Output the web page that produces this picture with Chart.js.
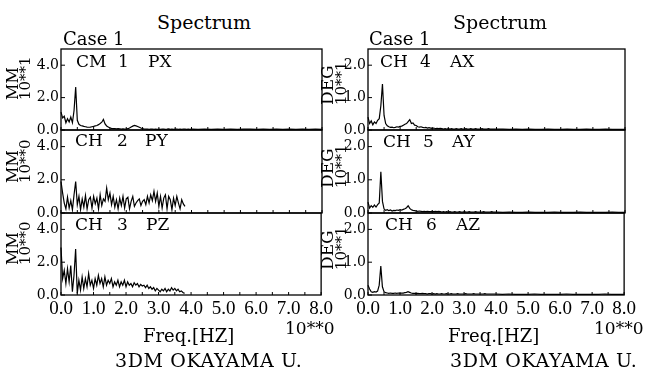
<!DOCTYPE html>
<html><head><meta charset="utf-8">
<script src="https://cdn.jsdelivr.net/npm/chart.js@4.4.1/dist/chart.umd.min.js"></script>
<style>
html,body{margin:0;padding:0;background:#fff;}
#fig{position:relative;width:658px;height:371px;overflow:hidden;font-family:'DejaVu Serif','Liberation Serif',serif;color:#000;}
.t{position:absolute;white-space:pre;line-height:1;}
.r{position:absolute;white-space:pre;line-height:1;transform:rotate(-90deg);transform-origin:left top;}
canvas{position:absolute;}
</style></head><body><div id="fig"></div>
<script>
const freq = [
0.00,0.05,0.10,0.15,0.20,0.25,0.30,0.35,0.40,0.45,
0.50,0.55,0.60,0.65,0.70,0.75,0.80,0.85,0.90,0.95,
1.00,1.05,1.10,1.15,1.20,1.25,1.30,1.35,1.40,1.45,
1.50,1.55,1.60,1.65,1.70,1.75,1.80,1.85,1.90,1.95,
2.00,2.05,2.10,2.15,2.20,2.25,2.30,2.35,2.40,2.45,
2.50,2.55,2.60,2.65,2.70,2.75,2.80,2.85,2.90,2.95,
3.00,3.05,3.10,3.15,3.20,3.25,3.30,3.35,3.40,3.45,
3.50,3.55,3.60,3.65,3.70,3.75,3.80,3.85,3.90,3.95,
4.00,
4.20,4.40,4.60,4.80,5.00,5.20,5.40,5.60,5.80,6.00,
6.20,6.40,6.60,6.80,7.00,7.20,7.40,7.60,7.80,8.00];
const chPX = [
1.10,0.75,0.85,0.45,0.70,0.50,0.80,0.45,1.20,2.65,
0.60,0.35,0.28,0.25,0.22,0.20,0.18,0.17,0.18,0.20,
0.22,0.25,0.28,0.33,0.40,0.48,0.65,0.38,0.25,0.18,
0.12,0.10,0.09,0.08,0.07,0.08,0.07,0.06,0.07,0.06,
0.06,0.08,0.12,0.18,0.24,0.28,0.25,0.22,0.17,0.12,
0.08,0.06,0.05,0.06,0.04,0.05,0.06,0.04,0.05,0.04,
0.05,0.04,0.06,0.05,0.04,0.05,0.07,0.04,0.05,0.04,
0.05,0.06,0.04,0.05,0.04,0.06,0.05,0.04,0.05,0.04,
0.05,
0.04,0.05,0.04,0.06,0.04,0.05,0.04,0.05,0.06,0.04,
0.05,0.04,0.05,0.04,0.06,0.04,0.05,0.04,0.05,0.04];
const chPY = [
1.90,1.20,0.60,0.25,0.95,0.30,0.75,0.20,1.10,1.90,
0.50,1.00,0.20,0.85,0.35,1.05,0.25,0.80,0.95,0.30,
1.00,0.55,0.90,0.25,1.10,0.45,0.85,0.70,1.50,0.80,
1.20,0.50,1.00,0.35,0.80,0.25,0.90,0.45,1.00,0.30,
0.85,0.95,0.25,0.70,1.00,0.40,0.60,0.75,0.85,0.45,
0.70,0.80,0.50,1.00,0.60,1.10,0.75,1.30,0.70,1.20,
0.40,1.00,0.30,0.90,1.10,0.25,1.00,0.80,0.20,0.90,
0.45,1.00,0.60,0.25,0.80,0.55,0.40];
const chPZ = [
2.90,1.00,1.50,0.70,1.60,0.80,1.80,0.20,1.20,2.80,
0.10,0.90,0.30,1.10,0.40,1.00,0.50,1.30,0.60,0.90,
0.40,1.00,0.60,1.20,0.70,1.00,0.50,1.10,0.60,0.90,
0.70,1.00,0.50,0.80,0.60,0.90,0.50,0.80,0.60,0.90,
0.50,0.80,0.60,0.70,0.50,0.75,0.60,0.70,0.50,0.65,
0.55,0.60,0.45,0.60,0.40,0.50,0.35,0.45,0.25,0.40,
0.30,0.20,0.35,0.25,0.40,0.20,0.35,0.25,0.45,0.30,
0.40,0.25,0.35,0.20,0.25,0.15,0.10];
const chAX = [
0.40,0.20,0.28,0.16,0.25,0.20,0.30,0.35,0.75,1.42,
0.45,0.20,0.13,0.10,0.08,0.09,0.07,0.08,0.10,0.09,
0.11,0.12,0.15,0.18,0.20,0.26,0.32,0.20,0.22,0.15,
0.14,0.10,0.09,0.10,0.08,0.07,0.08,0.06,0.07,0.06,
0.05,0.06,0.04,0.05,0.04,0.05,0.04,0.03,0.04,0.03,
0.04,0.03,0.04,0.03,0.03,0.04,0.03,0.03,0.04,0.03,
0.03,0.04,0.03,0.03,0.04,0.03,0.03,0.04,0.03,0.03,
0.03,0.04,0.03,0.03,0.03,0.04,0.03,0.03,0.03,0.03,
0.03,
0.03,0.02,0.03,0.02,0.03,0.02,0.02,0.03,0.02,0.02,
0.03,0.02,0.02,0.03,0.02,0.02,0.03,0.02,0.02,0.02];
const chAY = [
0.33,0.15,0.22,0.17,0.24,0.18,0.25,0.30,1.24,0.35,
0.12,0.08,0.10,0.07,0.09,0.06,0.08,0.07,0.09,0.08,
0.10,0.09,0.11,0.13,0.16,0.22,0.14,0.10,0.08,0.07,
0.06,0.05,0.06,0.05,0.04,0.05,0.04,0.05,0.04,0.04,
0.05,0.04,0.05,0.04,0.05,0.04,0.03,0.04,0.03,0.04,
0.03,0.04,0.03,0.03,0.04,0.03,0.03,0.04,0.03,0.03,
0.04,0.03,0.03,0.04,0.03,0.03,0.03,0.04,0.03,0.03,
0.03,0.03,0.04,0.03,0.03,0.03,0.03,0.04,0.03,0.03,
0.03,
0.02,0.03,0.02,0.02,0.03,0.02,0.02,0.02,0.03,0.02,
0.02,0.02,0.03,0.02,0.02,0.02,0.02,0.03,0.02,0.02];
const chAZ = [
0.30,0.18,0.10,0.08,0.10,0.09,0.12,0.30,0.88,0.25,
0.10,0.07,0.06,0.05,0.06,0.05,0.05,0.06,0.05,0.06,
0.05,0.06,0.06,0.07,0.08,0.10,0.08,0.06,0.05,0.05,
0.04,0.05,0.04,0.04,0.05,0.04,0.04,0.03,0.04,0.04,
0.03,0.04,0.03,0.04,0.03,0.03,0.04,0.03,0.03,0.04,
0.03,0.03,0.04,0.03,0.03,0.03,0.04,0.03,0.03,0.03,
0.03,0.04,0.03,0.03,0.03,0.03,0.04,0.03,0.03,0.03,
0.03,0.03,0.03,0.04,0.03,0.03,0.03,0.03,0.03,0.03,
0.03,
0.02,0.03,0.02,0.02,0.02,0.03,0.02,0.02,0.02,0.02,
0.03,0.02,0.02,0.02,0.02,0.02,0.03,0.02,0.02,0.02];
const xTickLabels = ['0.0','1.0','2.0','3.0','4.0','5.0','6.0','7.0','8.0'];
const leftYLabels = ['0.0','2.0','4.0'];
const rightYLabels = ['0.0','1.0','2.0'];

const XFONT = '"Liberation Serif", "DejaVu Serif", serif';
const YFONT = '"DejaVu Serif", "Liberation Serif", serif';
const fig = document.getElementById('fig');
function addText(txt, x, y, size, cls, ls) {
  const d = document.createElement('div');
  d.className = cls || 't';
  d.textContent = txt;
  d.style.left = x + 'px'; d.style.top = y + 'px';
  d.style.fontSize = size + 'px';
  if (ls) d.style.letterSpacing = ls + 'px';
  fig.appendChild(d);
}
const frame = {
  id: 'frame',
  afterDraw(chart) {
    const {ctx, chartArea: a, scales: {x, y}} = chart;
    ctx.save();
    ctx.strokeStyle = '#000';
    ctx.lineWidth = 1.3;
    ctx.strokeRect(a.left, a.top, a.right - a.left, a.bottom - a.top);
    ctx.lineWidth = 1;
    ctx.beginPath();
    x.ticks.forEach(t => { const p = x.getPixelForValue(t.value); ctx.moveTo(p, a.bottom); ctx.lineTo(p, a.bottom - 3); });
    y.ticks.forEach(t => { const p = y.getPixelForValue(t.value); ctx.moveTo(a.left, p); ctx.lineTo(a.left + 4, p); });
    ctx.stroke();
    ctx.restore();
  }
};
const P = 14, B = 32;
function panel(opt) {
  const {L, T, W, R, Bot, vals, ymax, ystep, ylabels, bottom} = opt;
  const cv = document.createElement('canvas');
  const cw = W + (R - L) + P;
  const ch = P + (Bot - T) + (bottom ? B : P);
  cv.width = cw; cv.height = ch;
  cv.style.left = (L - W) + 'px'; cv.style.top = (T - P) + 'px';
  cv.style.width = cw + 'px'; cv.style.height = ch + 'px';
  fig.appendChild(cv);
  const pts = vals.map((v, i) => ({x: freq[i], y: v}));
  new Chart(cv, {
    type: 'line',
    data: {datasets: [{data: pts, borderColor: '#000', borderWidth: 1.2, pointRadius: 0, tension: 0, fill: false, clip: 2}]},
    options: {
      responsive: false, animation: false, devicePixelRatio: 1,
      layout: {padding: {top: P, right: P, bottom: bottom ? 0 : P, left: 0}},
      plugins: {legend: {display: false}, tooltip: {enabled: false}},
      scales: {
        x: {
          type: 'linear', min: 0, max: 8,
          grid: {display: false, drawTicks: false}, border: {display: false},
          ticks: {
            display: !!bottom, stepSize: 0.5, autoSkip: false, maxRotation: 0, padding: 3,
            color: '#000', font: {family: XFONT, size: 19},
            callback: v => { const k = xTickLabels.indexOf(Number(v).toFixed(1)); return (Number.isInteger(v) && k >= 0) ? xTickLabels[k] : ''; }
          },
          afterFit: s => { s.height = bottom ? B : 0; }
        },
        y: {
          min: 0, max: ymax,
          grid: {display: false, drawTicks: false}, border: {display: false},
          ticks: {
            stepSize: ystep, padding: 2, color: '#000', font: {family: YFONT, size: 14},
            callback: v => { const s = Number(v).toFixed(1); return ylabels.includes(s) ? s : ''; }
          },
          afterFit: s => { s.width = W; }
        }
      }
    },
    plugins: [frame]
  });
}
const rows = [[49, 130], [130, 213], [213, 295]];
const leftSeries = [chPX, chPY, chPZ];
const rightSeries = [chAX, chAY, chAZ];
rows.forEach((r, i) => {
  panel({L: 61, T: r[0], W: 61, R: 322, Bot: r[1], vals: leftSeries[i], ymax: 5, ystep: 1, ylabels: leftYLabels, bottom: i === 2});
  panel({L: 368, T: r[0], W: 50, R: 625, Bot: r[1], vals: rightSeries[i], ymax: 2.5, ystep: 0.5, ylabels: rightYLabels, bottom: i === 2});
});
addText('Spectrum', 157, 13, 19);
addText('Spectrum', 453, 13, 19);
addText('Case 1', 63, 30, 18);
addText('Case 1', 369, 30, 18);
const chLabels = [
  [['CM', 76], ['1', 118], ['PX', 148], 53],
  [['CH', 75], ['2', 117], ['PY', 145], 132],
  [['CH', 75], ['3', 117], ['PZ', 146], 216],
  [['CH', 380], ['4', 420], ['AX', 450], 53],
  [['CH', 383], ['5', 423], ['AY', 452], 133],
  [['CH', 385], ['6', 426], ['AZ', 456], 216]
];
chLabels.forEach(c => { for (let k = 0; k < 3; k++) addText(c[k][0], c[k][1], c[3], 17); });
const leftUnits = ['10**1', '10**0', '10**0'];
rows.forEach((r, i) => {
  addText('MM', 5, r[1] - 30, 16, 'r');
  addText(leftUnits[i], 18, r[1] - 30, 15, 'r');
  addText('DEG', 319, r[1] - 25, 17, 'r');
  addText('10**1', 334, r[1] - 25, 15, 'r');
});
addText('Freq.[HZ]', 143, 327, 18);
addText('Freq.[HZ]', 448, 327, 18);
addText('10**0', 285, 320, 17);
addText('10**0', 594, 320, 17);
addText('3DM OKAYAMA U.', 115, 351, 19, 't', 0.6);
addText('3DM OKAYAMA U.', 450, 351, 19, 't', 0.6);
</script></body></html>
